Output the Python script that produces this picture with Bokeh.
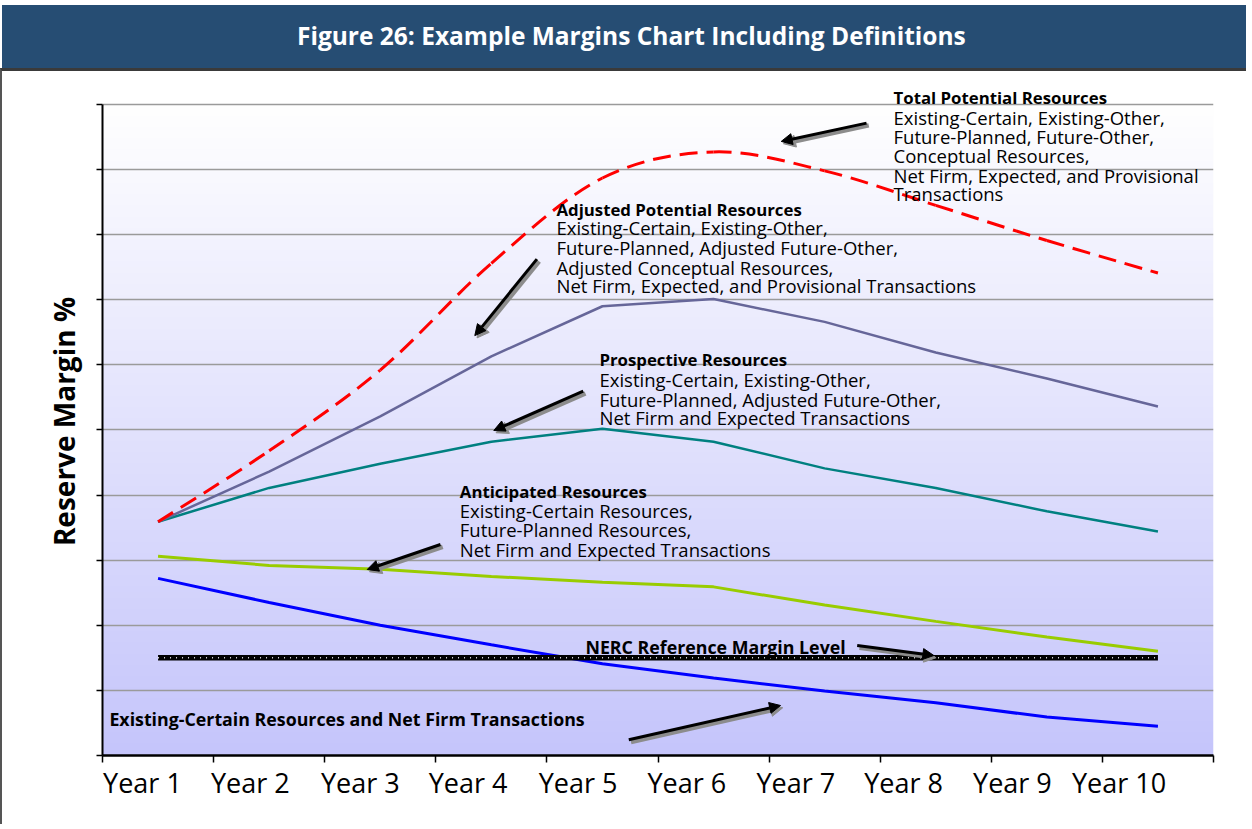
import numpy as np
from bokeh.plotting import figure
from bokeh.models import Range1d, FixedTicker, Arrow, NormalHead
from bokeh.layouts import column
from bokeh.embed import file_html
from bokeh.resources import INLINE
from bokeh.core.properties import value

# ---------------- data ----------------
title_text = "Figure 26: Example Margins Chart Including Definitions"
y_title = "Reserve Margin %"
years = ["Year 1", "Year 2", "Year 3", "Year 4", "Year 5",
         "Year 6", "Year 7", "Year 8", "Year 9", "Year 10"]
total_potential = [35.9, 46.8, 59.2, 75.6, 88.7, 92.7, 89.8, 84.5, 79.1, 74.1]
adjusted_potential = [35.9, 43.6, 52.1, 61.3, 69.0, 70.1, 66.6, 61.9, 57.9, 53.6]
prospective = [35.9, 41.1, 44.8, 48.2, 50.2, 48.2, 44.1, 41.1, 37.5, 34.4]
anticipated = [30.6, 29.2, 28.6, 27.5, 26.6, 25.9, 23.1, 20.6, 18.2, 16.0]
existing_certain = [27.2, 23.5, 20.0, 17.0, 14.1, 11.9, 9.9, 8.1, 5.9, 4.5]
nerc_reference = [15.0] * 10
y_ticks = [0, 10, 20, 30, 40, 50, 60, 70, 80, 90, 100]

total_title = "Total Potential Resources"
total_lines = ["Existing-Certain, Existing-Other,", "Future-Planned, Future-Other,",
               "Conceptual Resources,", "Net Firm, Expected, and Provisional", "Transactions"]
adjusted_title = "Adjusted Potential Resources"
adjusted_lines = ["Existing-Certain, Existing-Other,", "Future-Planned, Adjusted Future-Other,",
                  "Adjusted Conceptual Resources,", "Net Firm, Expected, and Provisional Transactions"]
prospective_title = "Prospective Resources"
prospective_lines = ["Existing-Certain, Existing-Other,", "Future-Planned, Adjusted Future-Other,",
                     "Net Firm and Expected Transactions"]
anticipated_title = "Anticipated Resources"
anticipated_lines = ["Existing-Certain Resources,", "Future-Planned Resources,",
                     "Net Firm and Expected Transactions"]
nerc_title = "NERC Reference Margin Level"
existing_title = "Existing-Certain Resources and Net Firm Transactions"

FONT = "Open Sans"
x = [i + 0.5 for i in range(len(years))]
label_pos = [0.36, 1.33, 2.32, 3.29, 4.28, 5.26, 6.24, 7.21, 8.19, 9.15]

W = 1246
BL, BR = 100, 35
BANNER = "#264d73"

# ---------------- title banner ----------------
t = figure(width=W, height=63, x_range=Range1d(0, 10), y_range=Range1d(0, 1),
           output_backend="svg", toolbar_location=None,
           min_border_left=BL, min_border_right=BR, min_border_top=0, min_border_bottom=0,
           outline_line_color=None, background_fill_alpha=0, border_fill_alpha=0,
           margin=(5, 0, 0, 0),
           styles={"border-left": "2px solid white", "background-color": BANNER})
t.xaxis.visible = False
t.yaxis.visible = False
t.grid.visible = False
t.text(x=[4.76], y=[0.52], text=[title_text], text_font=value(FONT),
       text_font_style="bold", text_font_size="24.5px", text_color="white",
       text_align="center", text_baseline="middle")

# ---------------- main chart ----------------
p = figure(width=W, height=756, x_range=Range1d(0, 10), y_range=Range1d(0, 102.6),
           output_backend="svg", toolbar_location=None,
           min_border_left=BL, min_border_right=BR, min_border_top=16,
           min_border_bottom=72, outline_line_color=None,
           background_fill_color="white", border_fill_color="white",
           styles={"border-left": "2px solid #555555", "border-top": "3px solid #3a3a3a"})

# gradient background (white at top -> lavender at bottom)
n = 651
tt = np.linspace(0.0, 1.0, n)[:, None]
r = (197 + (255 - 197) * tt).astype(np.uint32)
g = (197 + (255 - 197) * tt).astype(np.uint32)
b = (251 + (255 - 251) * tt).astype(np.uint32)
img = (255 << 24) | (b << 16) | (g << 8) | r
p.image_rgba(image=[img.astype(np.uint32)], x=0, y=0, dw=10, dh=100, level="image")

# axes
p.xaxis.ticker = FixedTicker(ticks=label_pos, minor_ticks=list(range(11)))
p.xaxis.major_label_overrides = {pos: name for pos, name in zip(label_pos, years)}
p.xaxis.major_tick_line_color = None
p.xaxis.major_tick_out = 0
p.xaxis.major_tick_in = 0
p.xaxis.minor_tick_line_color = "black"
p.xaxis.minor_tick_line_width = 1.5
p.xaxis.minor_tick_out = 7
p.xaxis.minor_tick_in = 0
p.xaxis.axis_line_width = 2.5
p.xaxis.axis_line_color = "black"
p.xaxis.major_label_standoff = 1
p.xaxis.major_label_text_font = FONT
p.xaxis.major_label_text_font_size = "27px"
p.xaxis.major_label_text_color = "black"

p.yaxis.ticker = FixedTicker(ticks=y_ticks)
p.yaxis.bounds = (0, 100)
p.yaxis.major_label_text_color = None
p.yaxis.major_label_standoff = 0
p.yaxis.major_tick_out = 6
p.yaxis.major_tick_in = 0
p.yaxis.major_tick_line_width = 1.5
p.yaxis.major_tick_line_color = "black"
p.yaxis.minor_tick_line_color = None
p.yaxis.axis_line_width = 2
p.yaxis.axis_line_color = "black"
p.yaxis.axis_label = y_title
p.yaxis.axis_label_text_font = FONT
p.yaxis.axis_label_text_font_size = "28px"
p.yaxis.axis_label_text_font_style = "bold"
p.yaxis.axis_label_text_color = "black"
p.yaxis.axis_label_standoff = 14

p.xgrid.visible = False
p.ygrid.grid_line_color = "#9a9a9a"
p.ygrid.grid_line_width = 1.5

# series
p.line(x, existing_certain, line_color="#0000ff", line_width=3)
p.line(x, nerc_reference, line_color="black", line_width=5.5)
p.line(x, nerc_reference, line_color="#dddddd", line_width=1.5, line_dash="1 5")
p.line(x, anticipated, line_color="#99cc00", line_width=3)
p.line(x, prospective, line_color="#008080", line_width=2.5)
p.line(x, adjusted_potential, line_color="#666699", line_width=2.5)

# smoothed (Excel-style) rendering of the Total Potential series
xs = np.array(x)
ys = np.array(total_potential)
xp = np.concatenate([[xs[0]], xs, [xs[-1]]])
yp = np.concatenate([[ys[0]], ys, [ys[-1]]])
x0, y0 = xs[:-1], ys[:-1]
x1, y1 = xs[1:], ys[1:]
cx0 = x0 + (xp[2:-1] - xp[0:-3]) / 6.0
cy0 = y0 + (yp[2:-1] - yp[0:-3]) / 6.0
cx1 = x1 - (xp[3:] - xp[1:-2]) / 6.0
cy1 = y1 - (yp[3:] - yp[1:-2]) / 6.0
p.bezier(x0=x0, y0=y0, x1=x1, y1=y1, cx0=cx0, cy0=cy0, cx1=cx1, cy1=cy1,
         line_color="#ff0000", line_width=3, line_dash="18 9")

# ---------------- arrows ----------------
def add_arrow(xs_, ys_, xe, ye):
    p.add_layout(Arrow(end=NormalHead(size=12, fill_color="#8c8c8c", line_color="#8c8c8c"),
                       x_start=xs_ + 0.02, y_start=ys_ - 0.35, x_end=xe + 0.02, y_end=ye - 0.35,
                       line_color="#8c8c8c", line_width=4.5))
    p.add_layout(Arrow(end=NormalHead(size=11, fill_color="black", line_color="black"),
                       x_start=xs_, y_start=ys_, x_end=xe, y_end=ye,
                       line_color="black", line_width=3))

add_arrow(6.877, 97.13, 6.109, 94.32)
add_arrow(3.910, 76.24, 3.351, 64.49)
add_arrow(4.327, 55.96, 3.522, 49.92)
add_arrow(3.042, 32.41, 2.383, 28.57)
add_arrow(6.793, 16.9, 7.483, 15.36)
add_arrow(4.737, 2.41, 6.103, 7.68)

# ---------------- annotation texts ----------------
head_x, head_y, head_t = [], [], []
body_x, body_y, body_t = [], [], []

def add_block(xv, ys_, title, lines):
    head_x.append(xv); head_y.append(ys_[0]); head_t.append(title)
    for yv, ln in zip(ys_[1:], lines):
        body_x.append(xv); body_y.append(yv); body_t.append(ln)

add_block(7.12, [101.1, 98.05, 95.08, 92.17, 89.09, 86.38], total_title, total_lines)
add_block(4.086, [83.87, 81.06, 78.08, 74.91, 72.2], adjusted_title, adjusted_lines)
add_block(4.473, [60.78, 57.71, 54.73, 51.87], prospective_title, prospective_lines)
add_block(3.216, [40.6, 37.63, 34.67, 31.64], anticipated_title, anticipated_lines)

p.text(x=head_x, y=head_y, text=head_t, text_font=value(FONT), text_font_size="16.8px",
       text_font_style="bold", text_color="black", text_align="left", text_baseline="middle")
p.text(x=body_x, y=body_y, text=body_t, text_font=value(FONT), text_font_size="18.5px",
       text_color="black", text_align="left", text_baseline="middle")
p.text(x=[4.347, 0.062], y=[16.74, 5.6], text=[nerc_title, existing_title],
       text_font=value(FONT), text_font_size="17.8px", text_font_style="bold",
       text_color="black", text_align="left", text_baseline="middle")

layout = column(t, p, spacing=0)
open("out.html", "w").write(file_html(layout, INLINE))
